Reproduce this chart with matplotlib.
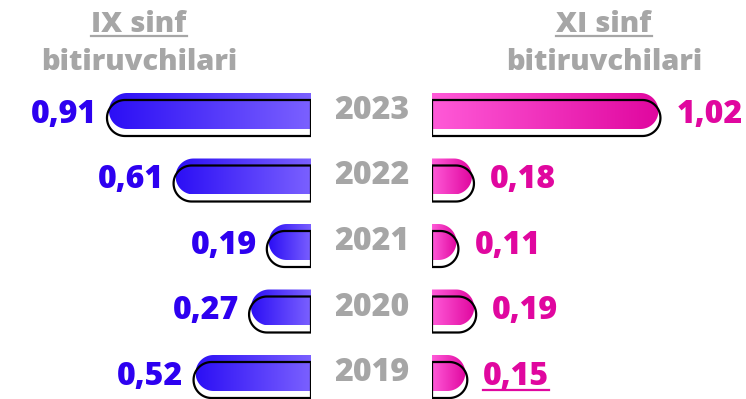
import numpy as np
import matplotlib.pyplot as plt
from matplotlib.colors import LinearSegmentedColormap
from matplotlib.path import Path
from matplotlib.patches import PathPatch
from matplotlib.lines import Line2D

plt.rcParams['font.family'] = ['Open Sans', 'DejaVu Sans']
plt.rcParams['font.weight'] = 'heavy'

years = ['2023', '2022', '2021', '2020', '2019']
ix_values = [0.91, 0.61, 0.19, 0.27, 0.52]
xi_values = [1.02, 0.18, 0.11, 0.19, 0.15]
ix_labels = ['0,91', '0,61', '0,19', '0,27', '0,52']
xi_labels = ['1,02', '0,18', '0,11', '0,19', '0,15']
headers = ['IX sinf', 'XI sinf']
subheader = 'bitiruvchilari'

BLUE_TEXT = '#2D00F0'
PINK_TEXT = '#E0079F'
GREY = '#A6A6A6'
blue_cmap = LinearSegmentedColormap.from_list('blue', ['#7B61FF', '#2C0FF5'])
pink_cmap = LinearSegmentedColormap.from_list('pink', ['#FF5AD8', '#E0079F'])

W, H, DPI = 746, 399, 100
PX_PER_UNIT = 222.0
ROW_PX = 65.5
FIRST_ROW_PX = 111.0
BAR_PX = 36.0
SHADOW_DY_PX = 7.0
LEFT_INNER, RIGHT_INNER = 311, 432

fig = plt.figure(figsize=(W / DPI, H / DPI), dpi=DPI)

ylim = ((H - FIRST_ROW_PX) / ROW_PX, -FIRST_ROW_PX / ROW_PX)


def make_axes(x0_px, x1_px, xlim):
    ax = fig.add_axes([x0_px / W, 0, (x1_px - x0_px) / W, 1])
    ax.set_xlim(*xlim)
    ax.set_ylim(*ylim)
    ax.axis('off')
    return ax


ax_l = make_axes(0, LEFT_INNER, (LEFT_INNER / PX_PER_UNIT, 0))
ax_r = make_axes(RIGHT_INNER, W, (0, (W - RIGHT_INNER) / PX_PER_UNIT))
ax_m = make_axes(LEFT_INNER, RIGHT_INNER, (0, 1))


def half_stadium(length, y, h, rx):
    straight = max(length - rx, 0)
    theta = np.linspace(-np.pi / 2, np.pi / 2, 40)
    arc = np.column_stack([straight + rx * np.cos(theta), y + h / 2 * np.sin(theta)])
    verts = np.vstack([[0, y - h / 2], arc, [0, y + h / 2], [0, y - h / 2]])
    codes = [Path.MOVETO] + [Path.LINETO] * (len(verts) - 2) + [Path.CLOSEPOLY]
    return Path(verts, codes)


def draw_side(ax, values, labels, cmap, color, ha, gap_px):
    h = BAR_PX / ROW_PX
    rx = BAR_PX / 2 / PX_PER_UNIT
    dy = SHADOW_DY_PX / ROW_PX
    grad = np.linspace(0, 1, 256).reshape(1, -1)
    texts = []
    for i, (v, lab) in enumerate(zip(values, labels)):
        patch = PathPatch(half_stadium(v, i, h, rx), facecolor='none', edgecolor='none')
        ax.add_patch(patch)
        img = ax.imshow(grad, cmap=cmap, aspect='auto', extent=[0, v, i + h / 2, i - h / 2],
                        interpolation='bicubic', zorder=2)
        img.set_clip_path(patch)
        outline = PathPatch(half_stadium(v + 2 / PX_PER_UNIT, i + dy, h, rx),
                            facecolor='none', edgecolor='black', lw=1.6, zorder=3)
        ax.add_patch(outline)
        t = ax.text(v + gap_px / PX_PER_UNIT, i + 0.06, lab, ha=ha, va='center',
                    fontsize=23, color=color)
        texts.append(t)
    ax.set_ylim(*ylim)
    return texts


draw_side(ax_l, ix_values, ix_labels, blue_cmap, BLUE_TEXT, 'right', 12)
xi_texts = draw_side(ax_r, xi_values, xi_labels, pink_cmap, PINK_TEXT, 'left', 18)

for i, year in enumerate(years):
    ax_m.text(0.5, i, year, ha='center', va='center', fontsize=23, color=GREY)

# column headers
head_texts = []
for x_px, head in zip([139, 604], headers):
    t = fig.text(x_px / W, 1 - 24 / H, head, ha='center', va='center', fontsize=21, color=GREY)
    fig.text(x_px / W, 1 - 62 / H, subheader, ha='center', va='center', fontsize=21, color=GREY)
    head_texts.append(t)


def underline(text, color, gap_px=2, lw=1.6):
    renderer = fig.canvas.get_renderer()
    bb = text.get_window_extent(renderer)
    y = (bb.y0 + gap_px) / H
    fig.add_artist(Line2D([bb.x0 / W, bb.x1 / W], [y, y], color=color, lw=lw))


fig.canvas.draw()
for t in head_texts:
    underline(t, GREY, gap_px=3)
underline(xi_texts[-1], PINK_TEXT, gap_px=3)

fig.savefig('out.png', dpi=DPI)
